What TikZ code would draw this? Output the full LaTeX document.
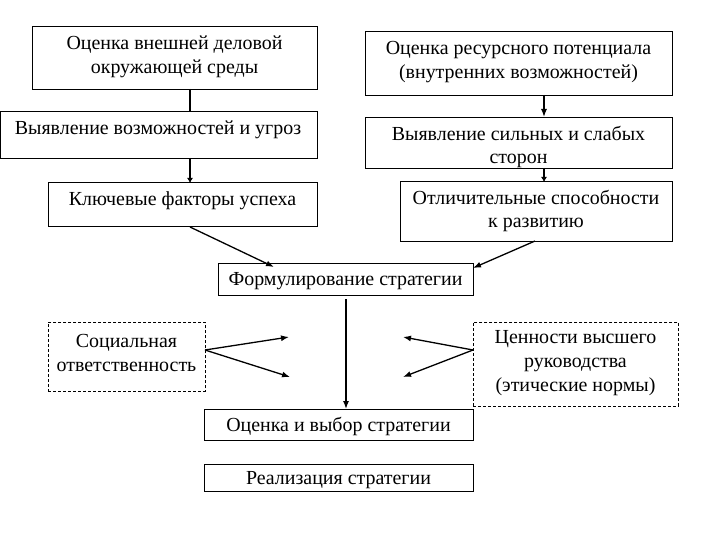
\documentclass[tikz,border=0pt]{standalone}
\usepackage{fontspec}
\setmainfont{Liberation Serif}
\usetikzlibrary{arrows.meta}
\begin{document}
\begin{tikzpicture}[x=1bp,y=-1bp,
  box/.style={draw, line width=0.9bp, inner sep=0pt, anchor=north west},
  dbox/.style={box, dashed, dash pattern=on 3bp off 2bp},
  lbl/.style={inner sep=0pt, align=center, font=\fontsize{20}{24}\selectfont},
  conn/.style={line width=1.3bp},
  arr/.style={conn, -{Latex[length=8bp,width=6bp]}},
  sarr/.style={conn, -{Latex[length=5bp,width=6bp]}}]
\useasboundingbox (0,0) rectangle (720,540);
% left column
\node[box, minimum width=285bp, minimum height=63bp] (b1) at (32,26) {};
\node[lbl] (t1) at (174.5,57) {Оценка внешней деловой\\окружающей среды};
\node[box, minimum width=317bp, minimum height=47bp] (b2) at (0,111) {};
\node[lbl] (t2) at (158,130) {Выявление возможностей и угроз};
\node[box, minimum width=269bp, minimum height=44bp] (b3) at (48,182) {};
\node[lbl] (t3) at (182.5,201) {Ключевые факторы успеха};
% right column
\node[box, minimum width=307bp, minimum height=64bp] (b4) at (365,31) {};
\node[lbl] (t4) at (518.5,62) {Оценка ресурсного потенциала\\(внутренних возможностей)};
\node[box, minimum width=307bp, minimum height=51bp] (b5) at (365,117) {};
\node[lbl] (t5) at (518.5,147) {Выявление сильных и слабых\\сторон};
\node[box, minimum width=272bp, minimum height=60bp] (b6) at (400,181) {};
\node[lbl] (t6) at (536,211) {Отличительные способности\\к развитию};
% centre
\node[box, minimum width=255bp, minimum height=32bp] (f) at (218,263) {};
\node[lbl] (tf) at (345.5,281) {Формулирование стратегии};
\node[box, minimum width=269bp, minimum height=31bp] (e) at (204,409) {};
\node[lbl] (te) at (338.5,426) {Оценка и выбор стратегии};
\node[box, minimum width=269bp, minimum height=27bp] (r) at (204,464) {};
\node[lbl] (tr) at (338.5,480) {Реализация стратегии};
% dashed side boxes
\node[dbox, minimum width=157bp, minimum height=69bp] (s) at (48,322) {};
\node[lbl] (ts) at (126.5,353) {Социальная\\ответственность};
\node[dbox, minimum width=205bp, minimum height=84bp] (v) at (473,322) {};
\node[lbl] (tv) at (575.5,363) {Ценности высшего\\руководства\\(этические нормы)};
% connector end points
\coordinate (b1s) at (190,89);
\coordinate (b2n) at (190,111);
\coordinate (b2s) at (190,158);
\coordinate (b3n) at (190,183);
\coordinate (b3s) at (190,227);
\coordinate (fnw) at (274,267);
\coordinate (b4s) at (544,95);
\coordinate (b5n) at (544,117);
\coordinate (b5s) at (544,168);
\coordinate (b6n) at (544,182);
\coordinate (b6s) at (535,241);
\coordinate (fne) at (473,268);
\coordinate (fs) at (346,299);
\coordinate (en) at (346,409);
\coordinate (se) at (205,350);
\coordinate (sa1) at (289,337);
\coordinate (sa2) at (290,377);
\coordinate (vw) at (473,350);
\coordinate (va1) at (403,337);
\coordinate (va2) at (403,377);
\draw[conn] (b1s) -- (b2n);
\draw[sarr] (b2s) -- (b3n);
\draw[arr] (b3s) -- (fnw);
\draw[arr] (b4s) -- (b5n);
\draw[sarr] (b5s) -- (b6n);
\draw[arr] (b6s) -- (fne);
\draw[arr] (fs) -- (en);
\draw[arr] (se) -- (sa1);
\draw[arr] (se) -- (sa2);
\draw[arr] (vw) -- (va1);
\draw[arr] (vw) -- (va2);
\end{tikzpicture}
\end{document}
